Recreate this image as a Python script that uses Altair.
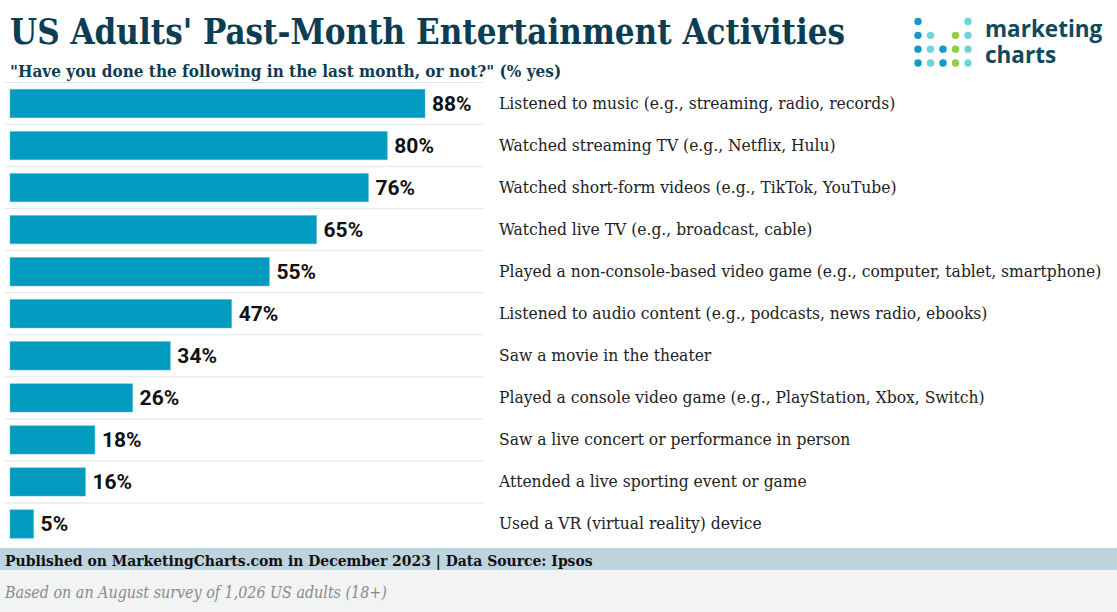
import altair as alt
import pandas as pd

categories = [
    "Listened to music (e.g., streaming, radio, records)",
    "Watched streaming TV (e.g., Netflix, Hulu)",
    "Watched short-form videos (e.g., TikTok, YouTube)",
    "Watched live TV (e.g., broadcast, cable)",
    "Played a non-console-based video game (e.g., computer, tablet, smartphone)",
    "Listened to audio content (e.g., podcasts, news radio, ebooks)",
    "Saw a movie in the theater",
    "Played a console video game (e.g., PlayStation, Xbox, Switch)",
    "Saw a live concert or performance in person",
    "Attended a live sporting event or game",
    "Used a VR (virtual reality) device",
]
values = [88, 80, 76, 65, 55, 47, 34, 26, 18, 16, 5]

title_text = "US Adults' Past-Month Entertainment Activities"
subtitle_text = "\"Have you done the following in the last month, or not?\" (% yes)"
footer_text = "Published on MarketingCharts.com in December 2023 | Data Source: Ipsos"
note_text = "Based on an August survey of 1,026 US adults (18+)"

# logo dots
dot_col = [0, 4, 0, 1, 3, 4, 0, 1, 2, 3, 4, 0, 1, 2, 3, 4]
dot_row = [0, 0, 1, 1, 1, 1, 2, 2, 2, 2, 2, 3, 3, 3, 3, 3]
dot_kind = ["b", "l", "b", "l", "g", "l", "b", "l", "b", "g", "l", "b", "l", "b", "g", "l"]

W, H = 1117, 612
TEAL = "#0c3d52"
BAR = "#009bbf"
SERIF = "DejaVu Serif Condensed, DejaVu Serif"

df = pd.DataFrame({"activity": categories, "value": values})
df["label"] = df["value"].astype(str) + "%"
dots = pd.DataFrame({"c": dot_col, "r": dot_row, "k": dot_kind})

yscale = alt.Scale(domain=categories, range=[82.5, 545], paddingInner=0.325, paddingOuter=0.1625)
xscale = alt.Scale(domain=[0, 100], range=[10, 481.6])

base = alt.Chart(df)

grid = base.mark_rule(color="#e4e4e4", strokeWidth=1, yOffset=-21).encode(
    y=alt.Y("activity:N", scale=yscale, axis=None),
    x=alt.value(5), x2=alt.value(483),
)

bars = base.mark_bar(color=BAR, stroke="#4fb9d6", strokeWidth=0.5).encode(
    y=alt.Y("activity:N", scale=yscale, axis=None),
    x=alt.X("value:Q", scale=xscale, axis=None),
)

vlabels = base.mark_text(align="left", baseline="middle", dx=7, dy=1, font="Roboto",
                         fontWeight="bold", fontSize=21, color="#111111").encode(
    y=alt.Y("activity:N", scale=yscale, axis=None),
    x=alt.X("value:Q", scale=xscale, axis=None),
    text="label:N",
)

clabels = base.mark_text(align="left", baseline="middle", font=SERIF, fontSize=17.3,
                         color="#222222").encode(
    y=alt.Y("activity:N", scale=yscale, axis=None),
    x=alt.value(499),
    text="activity:N",
)

def txt(t, x, y, **kw):
    return alt.Chart(pd.DataFrame({"t": [t]})).mark_text(align="left", baseline="alphabetic", **kw).encode(
        x=alt.value(x), y=alt.value(y), text="t:N")

def rect(y1, y2, color):
    return alt.Chart(pd.DataFrame({"a": [0]})).mark_rect(color=color).encode(
        x=alt.value(0), x2=alt.value(W), y=alt.value(y1), y2=alt.value(y2))

title = txt(title_text, 10, 44, font=SERIF, fontSize=34.6, fontWeight="bold", color=TEAL)
subtitle = txt(subtitle_text, 10, 77, font=SERIF, fontSize=17, fontWeight="bold", color=TEAL)
band1 = rect(548, 570, "#bdd4df")
band2 = rect(570, 612, "#f2f3f3")
footer = txt(footer_text, 5, 566, font=SERIF, fontSize=15.5, fontWeight="bold", color="#111111")
note = txt(note_text, 5, 598, font=SERIF, fontSize=15.9, fontStyle="italic", color="#8a8a8a")
logo1 = txt("marketing", 985, 37, font="Open Sans", fontSize=22.5, fontWeight="bold", color="#0d4a5e")
logo2 = txt("charts", 985, 63, font="Open Sans", fontSize=22.5, fontWeight="bold", color="#0d4a5e")

logo_dots = alt.Chart(dots).mark_circle(size=55, opacity=1).encode(
    x=alt.X("c:Q", scale=alt.Scale(domain=[0, 4], range=[918, 968]), axis=None),
    y=alt.Y("r:Q", scale=alt.Scale(domain=[0, 3], range=[21.5, 63]), axis=None),
    color=alt.Color("k:N", scale=alt.Scale(domain=["b", "l", "g"], range=["#119ac8", "#6fd4da", "#8ecf3f"]), legend=None),
)

chart = alt.layer(
    band1, band2, grid, bars, vlabels, clabels, title, subtitle, footer, note, logo1, logo2, logo_dots
).resolve_scale(x="independent", y="independent", color="independent").properties(
    width=W, height=H, padding=0, autosize=alt.AutoSizeParams(type="none")
).configure_view(strokeWidth=0)

chart.save("out.html", embed_options={"renderer": "svg", "actions": False})
